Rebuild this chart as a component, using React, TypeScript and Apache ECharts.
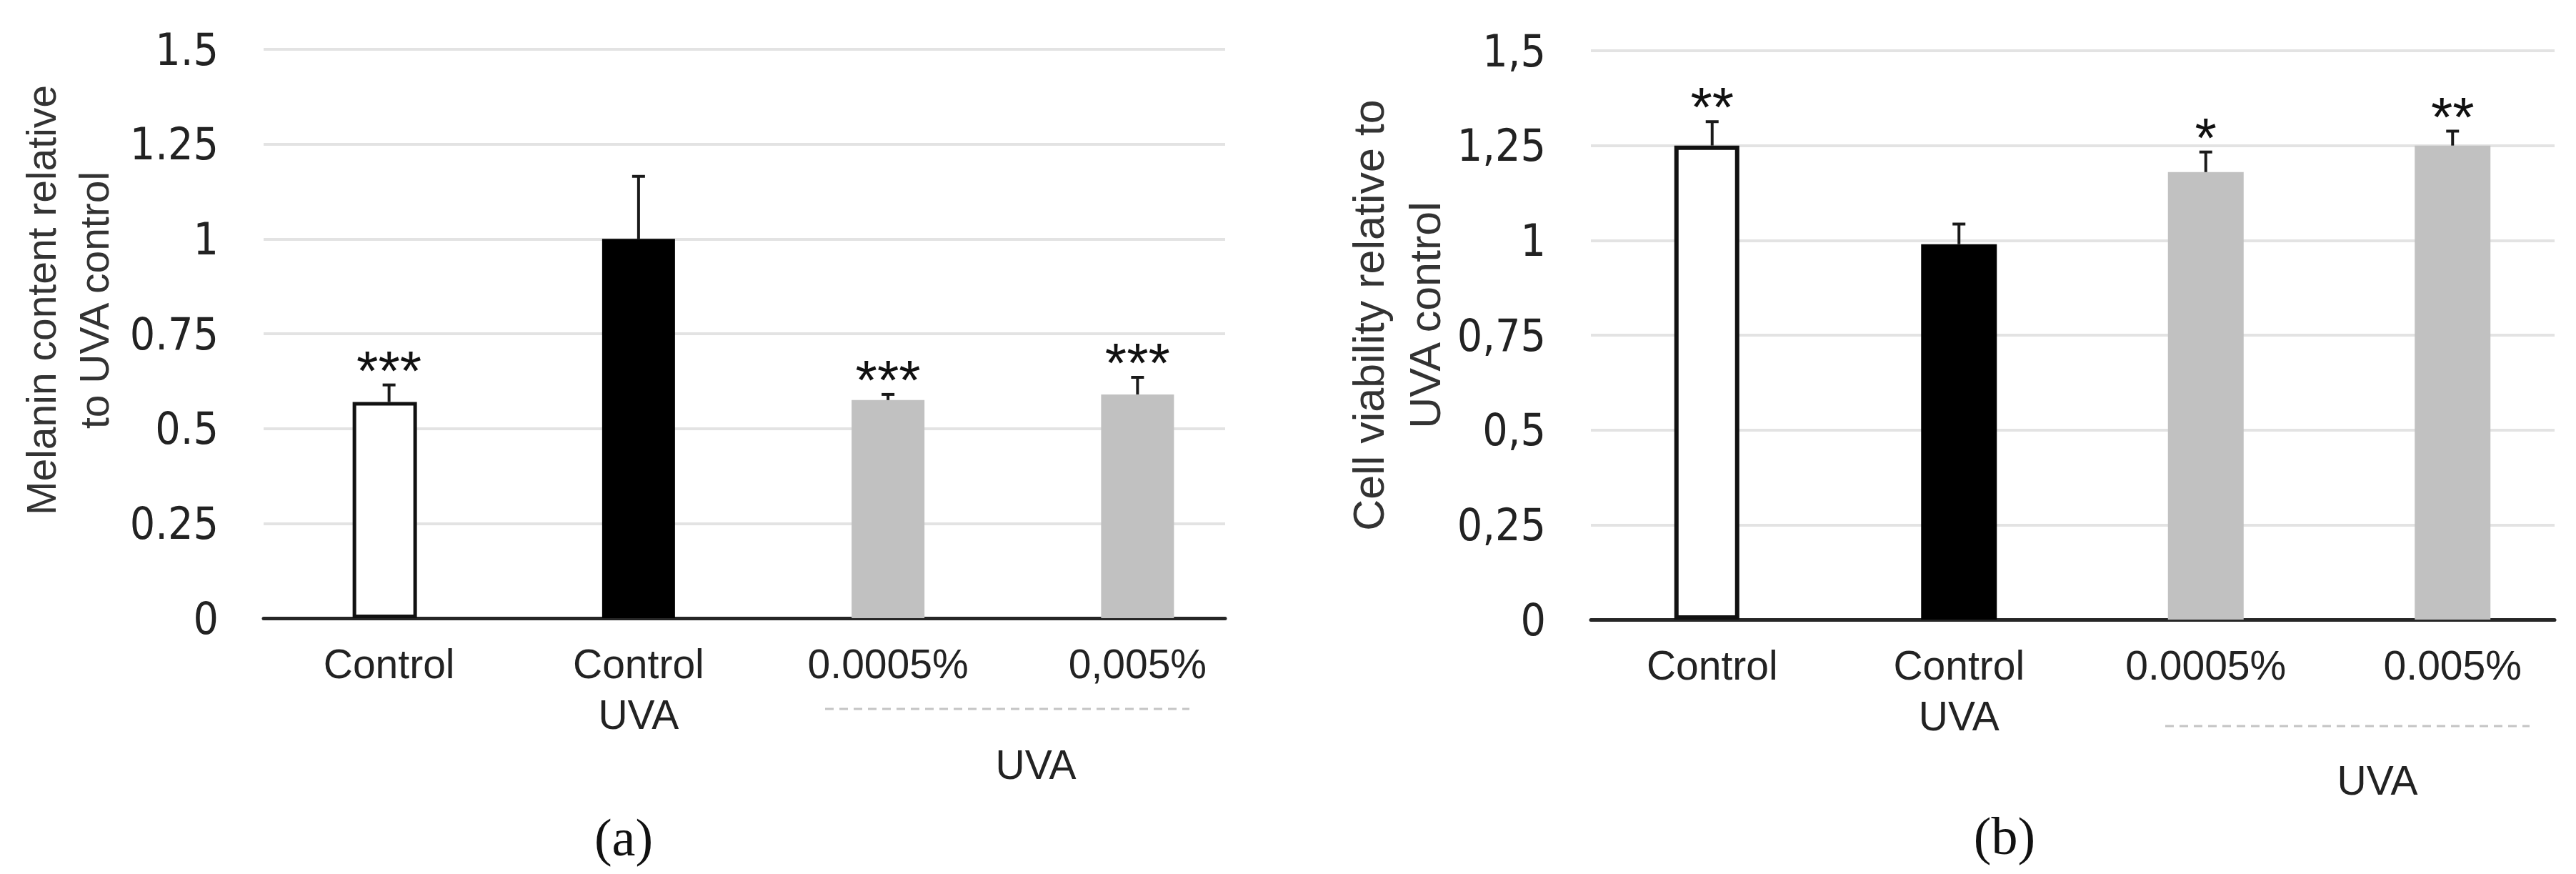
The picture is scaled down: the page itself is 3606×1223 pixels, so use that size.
import React, { useEffect, useRef } from 'react';
import * as echarts from 'echarts';

// ---------- data ----------
const categoriesA = ['Control', 'Control\nUVA', '0.0005%', '0,005%'];
const categoriesB = ['Control', 'Control\nUVA', '0.0005%', '0.005%'];
const melanin = [0.57, 1.0, 0.575, 0.59];
const melaninErr = [0.045, 0.165, 0.015, 0.045];
const melaninStars = ['***', '', '***', '***'];
const viability = [1.25, 0.99, 1.18, 1.25];
const viabilityErr = [0.063, 0.053, 0.053, 0.038];
const viabilityStars = ['**', '', '*', '**'];
const tickLabelsA = ['0', '0.25', '0.5', '0.75', '1', '1.25', '1.5'];
const tickLabelsB = ['0', '0,25', '0,5', '0,75', '1', '1,25', '1,5'];
const yTitleA = 'Melanin content relative\nto UVA control';
const yTitleB = 'Cell viability relative to\nUVA control';
const groupLabel = 'UVA';
const panelLabels = ['(a)', '(b)'];

const SANS = "'Liberation Sans', Arial, sans-serif";
const NARROW = "'Liberation Sans Narrow', 'DejaVu Sans Condensed', 'Liberation Sans', sans-serif";
const SERIF = "'Liberation Serif', 'DejaVu Serif', serif";

type Panel = {
  frame: { left: number; top: number; width: number; height: number };
  bars: { left: number; top: number; width: number; height: number };
  cats: string[];
  values: number[];
  errs: number[];
  stars: string[];
  ticks: string[];
  whiteWidth: number;
  otherWidth: number;
  border: number;
};

const panels: Panel[] = [
  {
    frame: { left: 369, top: 69, width: 1346, height: 796 },
    bars: { left: 370, top: 69, width: 1397, height: 796 },
    cats: categoriesA,
    values: melanin,
    errs: melaninErr,
    stars: melaninStars,
    ticks: tickLabelsA,
    whiteWidth: 90,
    otherWidth: 102,
    border: 5,
  },
  {
    frame: { left: 2227, top: 71, width: 1349, height: 796 },
    bars: { left: 2224, top: 71, width: 1415, height: 796 },
    cats: categoriesB,
    values: viability,
    errs: viabilityErr,
    stars: viabilityStars,
    ticks: tickLabelsB,
    whiteWidth: 91,
    otherWidth: 106,
    border: 6,
  },
];

function buildOption() {
  const grid: any[] = [];
  const xAxis: any[] = [];
  const yAxis: any[] = [];
  const series: any[] = [];

  panels.forEach((p, k) => {
    const gFrame = k * 2;
    const gBars = k * 2 + 1;
    grid.push({ ...p.frame, containLabel: false });
    grid.push({ ...p.bars, containLabel: false });

    xAxis.push({
      gridIndex: gFrame,
      type: 'category',
      data: p.cats,
      axisLine: { show: true, lineStyle: { color: '#262626', width: 5 } },
      axisTick: { show: false },
      axisLabel: { show: false },
      splitLine: { show: false },
    });
    xAxis.push({
      gridIndex: gBars,
      type: 'category',
      data: p.cats,
      axisLine: { show: false },
      axisTick: { show: false },
      axisLabel: {
        show: true,
        margin: 28,
        fontSize: 57,
        lineHeight: 71,
        color: '#222',
        fontFamily: SANS,
        interval: 0,
      },
      splitLine: { show: false },
    });

    yAxis.push({
      gridIndex: gFrame,
      type: 'value',
      min: 0,
      max: 1.5,
      interval: 0.25,
      axisLine: { show: false },
      axisTick: { show: false },
      axisLabel: {
        margin: 63,
        fontSize: 62,
        color: '#222',
        fontFamily: NARROW,
        formatter: (v: number) => p.ticks[Math.round(v / 0.25)] ?? '',
      },
      splitLine: { show: true, lineStyle: { color: '#e3e3e3', width: 4 } },
    });
    yAxis.push({
      gridIndex: gBars,
      type: 'value',
      min: 0,
      max: 1.5,
      interval: 0.25,
      show: false,
      splitLine: { show: false },
    });

    series.push({
      type: 'bar',
      xAxisIndex: gBars,
      yAxisIndex: gBars,
      barWidth: p.whiteWidth,
      barGap: '-100%',
      data: p.values.map((v, i) => (i === 0 ? v : '-')),
      itemStyle: { color: '#ffffff', borderColor: '#111', borderWidth: p.border },
      z: 3,
    });
    series.push({
      type: 'bar',
      xAxisIndex: gBars,
      yAxisIndex: gBars,
      barWidth: p.otherWidth,
      barGap: '-100%',
      data: p.values.map((v, i) =>
        i === 0 ? '-' : { value: v, itemStyle: { color: i === 1 ? '#000000' : '#c1c1c1' } }
      ),
      z: 2,
    });
    const stars = p.stars;
    series.push({
      type: 'custom',
      xAxisIndex: gBars,
      yAxisIndex: gBars,
      clip: false,
      z: 5,
      data: p.values.map((v, i) => [i, v, p.errs[i]]),
      renderItem: (params: any, api: any) => {
        const i = api.value(0);
        const v = api.value(1);
        const e = api.value(2);
        const base = api.coord([i, v]);
        const top = api.coord([i, v + e]);
        return {
          type: 'group',
          children: [
            {
              type: 'line',
              shape: { x1: base[0], y1: base[1], x2: top[0], y2: top[1] },
              style: { stroke: '#1a1a1a', lineWidth: 4 },
            },
            {
              type: 'line',
              shape: { x1: top[0] - 9, y1: top[1], x2: top[0] + 9, y2: top[1] },
              style: { stroke: '#1a1a1a', lineWidth: 4 },
            },
            {
              type: 'text',
              x: top[0],
              y: top[1] - 20,
              style: {
                text: stars[params.dataIndex],
                fontSize: 78,
                fontFamily: SANS,
                fill: '#111',
                align: 'center',
                verticalAlign: 'middle',
              },
            },
          ],
        };
      },
    });
  });

  const graphic: any[] = [
    {
      type: 'text',
      x: 95,
      y: 420,
      rotation: Math.PI / 2,
      style: {
        text: yTitleA,
        fontSize: 57,
        lineHeight: 74,
        fontFamily: SANS,
        fill: '#333',
        align: 'center',
        verticalAlign: 'middle',
      },
    },
    {
      type: 'text',
      x: 1955,
      y: 441,
      rotation: Math.PI / 2,
      style: {
        text: yTitleB,
        fontSize: 61,
        lineHeight: 79,
        fontFamily: SANS,
        fill: '#333',
        align: 'center',
        verticalAlign: 'middle',
      },
    },
    {
      type: 'line',
      shape: { x1: 1155, y1: 992, x2: 1665, y2: 992 },
      style: { stroke: '#c4c4c4', lineWidth: 3, lineDash: [12, 8] },
    },
    {
      type: 'line',
      shape: { x1: 3031, y1: 1016, x2: 3541, y2: 1016 },
      style: { stroke: '#c4c4c4', lineWidth: 3, lineDash: [12, 8] },
    },
    {
      type: 'text',
      x: 1450,
      y: 1070,
      style: { text: groupLabel, fontSize: 57, fontFamily: SANS, fill: '#222', align: 'center', verticalAlign: 'middle' },
    },
    {
      type: 'text',
      x: 3328,
      y: 1092,
      style: { text: groupLabel, fontSize: 57, fontFamily: SANS, fill: '#222', align: 'center', verticalAlign: 'middle' },
    },
    {
      type: 'text',
      x: 873,
      y: 1172,
      style: { text: panelLabels[0], fontSize: 74, fontFamily: SERIF, fill: '#111', align: 'center', verticalAlign: 'middle' },
    },
    {
      type: 'text',
      x: 2806,
      y: 1170,
      style: { text: panelLabels[1], fontSize: 74, fontFamily: SERIF, fill: '#111', align: 'center', verticalAlign: 'middle' },
    },
  ];

  return {
    animation: false,
    backgroundColor: '#ffffff',
    grid,
    xAxis,
    yAxis,
    series,
    graphic,
  };
}

export default function App() {
  const ref = useRef<HTMLDivElement>(null);
  useEffect(() => {
    if (!ref.current) return;
    const chart = echarts.init(ref.current, null, { renderer: 'svg' });
    chart.setOption(buildOption());
    return () => chart.dispose();
  }, []);
  return (
    <div
      ref={ref}
      style={{ position: 'fixed', left: 0, top: 0, width: 3606, height: 1223, background: '#fff' }}
    />
  );
}
